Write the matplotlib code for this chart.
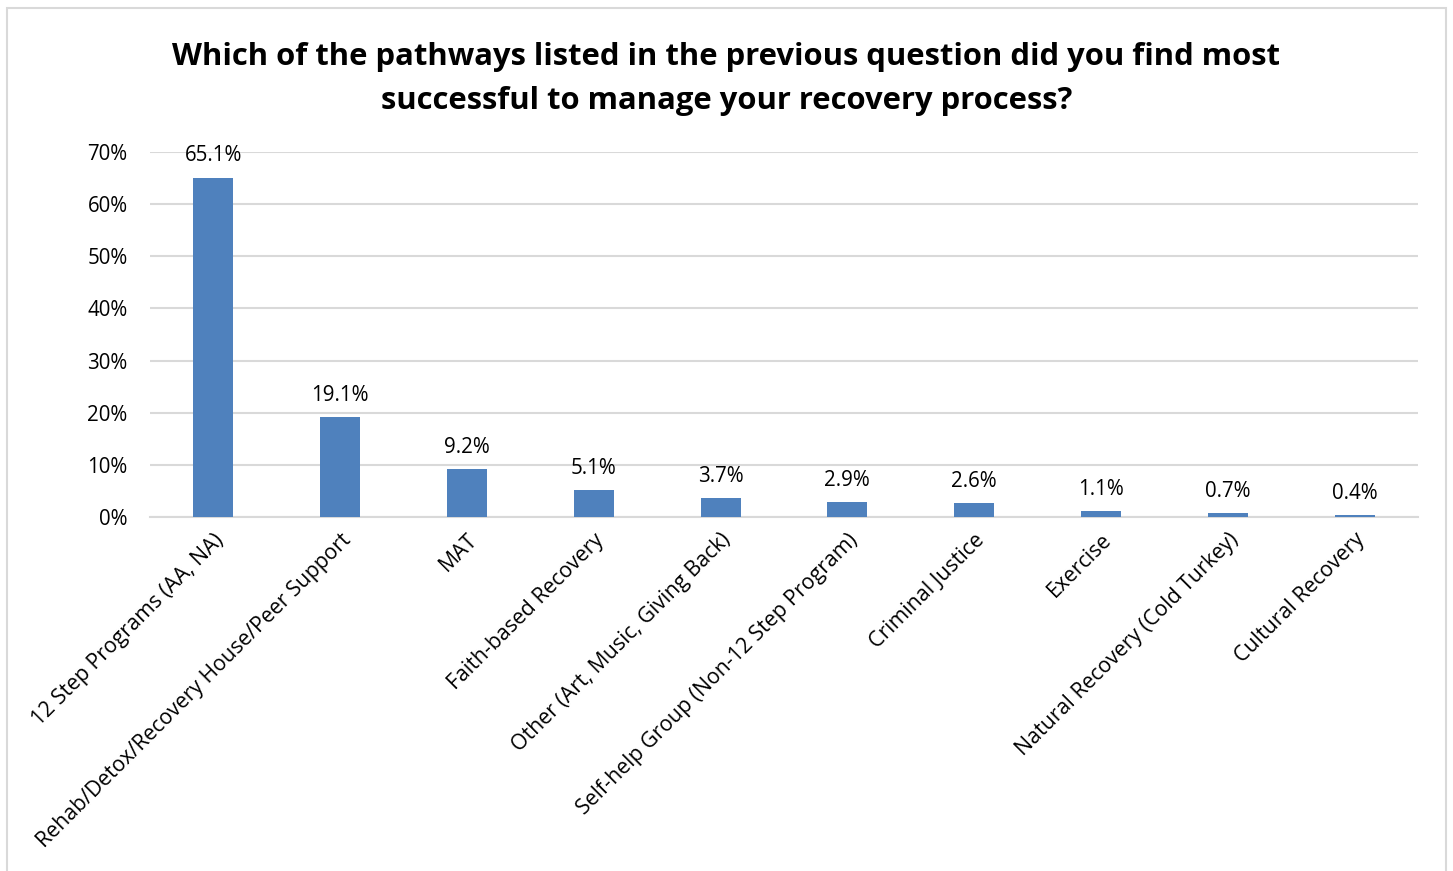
import matplotlib.pyplot as plt
from matplotlib.patches import Rectangle
from matplotlib.ticker import PercentFormatter

plt.rcParams['font.family'] = ['Open Sans', 'DejaVu Sans']

# survey answers and share of respondents (%)
pathways = ["12 Step Programs (AA, NA)",
            "Rehab/Detox/Recovery House/Peer Support",
            "MAT",
            "Faith-based Recovery",
            "Other (Art, Music, Giving Back)",
            "Self-help Group (Non-12 Step Program)",
            "Criminal Justice",
            "Exercise",
            "Natural Recovery (Cold Turkey)",
            "Cultural Recovery"]
shares = [65.1, 19.1, 9.2, 5.1, 3.7, 2.9, 2.6, 1.1, 0.7, 0.4]
yticks = [0, 10, 20, 30, 40, 50, 60, 70]

bar_color = "#4F81BD"
grid_color = "#D9D9D9"

fig = plt.figure(figsize=(14.53, 8.71), dpi=100)
ax = fig.add_axes([0.1032, 0.4064, 0.8727, 0.4191])

# chart area outline
fig.patches.append(Rectangle((7 / 1453, -0.05), 1439 / 1453, 1.05 - 8 / 871,
                             transform=fig.transFigure, fill=False,
                             edgecolor=grid_color, linewidth=1.5))

x = range(len(pathways))
ax.bar(x, shares, width=0.315, color=bar_color, zorder=3)

for xi, v in zip(x, shares):
    ax.annotate(f"{v:.1f}%", (xi, v), xytext=(0, 8), textcoords="offset points",
                ha="center", va="bottom", fontsize=14.8, color="#000000")

ax.set_xlim(-0.5, len(pathways) - 0.5)
ax.set_ylim(0, 70)
ax.set_yticks(yticks)
ax.yaxis.set_major_formatter(PercentFormatter(decimals=0))
ax.grid(axis="y", color=grid_color, linewidth=1.5, zorder=0)
for s in ["top", "right", "left"]:
    ax.spines[s].set_visible(False)
ax.spines["bottom"].set_color(grid_color)
ax.spines["bottom"].set_linewidth(1.5)
ax.tick_params(axis="both", length=0, labelsize=14.8, colors="#000000")
ax.tick_params(axis="y", pad=16)

ax.set_xticks(list(x))
ax.set_xticklabels(pathways, rotation=45, ha="right", va="top",
                   rotation_mode="anchor", fontsize=15.3)
ax.tick_params(axis="x", pad=9)

fig.text(0.5, 0.952, "Which of the pathways listed in the previous question did you find most\n"
         "successful to manage your recovery process?",
         ha="center", va="top", fontsize=22.3, fontweight="bold", linespacing=1.6)

plt.savefig("out.png", dpi=100)
